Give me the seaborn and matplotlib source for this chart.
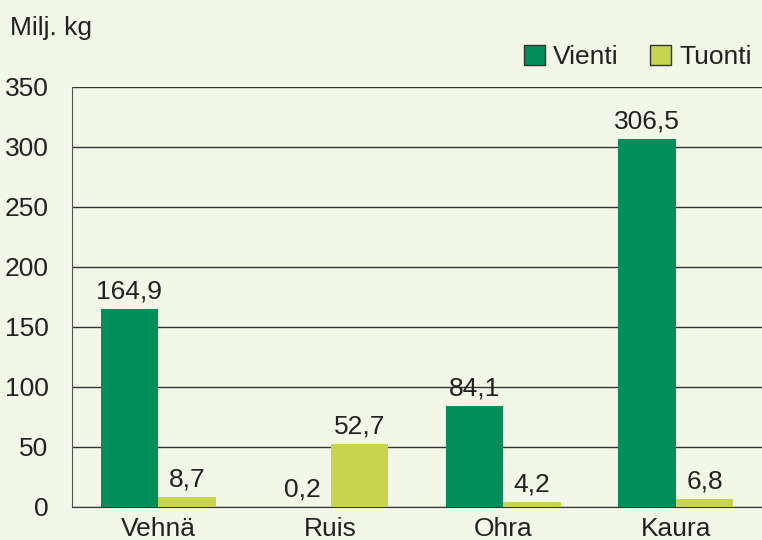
import pandas as pd
import matplotlib.pyplot as plt
import seaborn as sns
from matplotlib.ticker import FixedLocator

categories = ['Vehnä', 'Ruis', 'Ohra', 'Kaura']
vienti = [164.9, 0.2, 84.1, 306.5]
tuonti = [8.7, 52.7, 4.2, 6.8]

df = pd.DataFrame({
    'laji': categories * 2,
    'arvo': vienti + tuonti,
    'suunta': ['Vienti'] * 4 + ['Tuonti'] * 4,
})

bg = '#f3f7e8'
sns.set_style('white')
plt.rcParams['font.family'] = ['Liberation Sans', 'DejaVu Sans']
plt.rcParams['text.color'] = '#222222'
fs = 19

fig = plt.figure(figsize=(7.62, 5.40), dpi=100, facecolor=bg)
ax = fig.add_axes([72 / 762, 1 - 507 / 540, 1 - 72 / 762, 420 / 540])
ax.set_facecolor(bg)

sns.barplot(data=df, x='laji', y='arvo', hue='suunta', order=categories,
            hue_order=['Vienti', 'Tuonti'], palette=['#008f5a', '#c9d44e'],
            width=2 / 3, saturation=1, ax=ax, zorder=3, linewidth=0)

for cont in ax.containers:
    ax.bar_label(cont, labels=[f'{v:.1f}'.replace('.', ',') for v in cont.datavalues],
                 padding=4, fontsize=fs, color='#222222')

ax.set_xlim(-0.5, 3.5)
ax.set_ylim(0, 350)
ax.set_yticks(range(0, 351, 50))
ax.yaxis.grid(True, color='#333333', linewidth=1)
ax.set_axisbelow(True)
ax.set_xlabel('')
ax.set_ylabel('')

for s in ['top', 'right']:
    ax.spines[s].set_visible(False)
ax.spines['left'].set_color('#555555')
ax.spines['bottom'].set_color('#333333')

ax.tick_params(axis='y', labelsize=fs, length=12, width=1, color='#555555', pad=5,
               labelcolor='#222222')
ax.tick_params(axis='x', which='major', labelsize=fs, length=0, pad=7, labelcolor='#222222')
ax.xaxis.set_minor_locator(FixedLocator([0.5, 1.5, 2.5]))
ax.tick_params(axis='x', which='minor', length=6, width=1, color='#555555')

fig.text(10 / 762, 1 - 28 / 540, 'Milj. kg', fontsize=fs, va='center', ha='left')

leg = ax.legend(loc='center right', bbox_to_anchor=(1.0, 1 - 57 / 540),
                bbox_transform=fig.transFigure, ncol=2, frameon=False,
                fontsize=fs, handlelength=0.8, handleheight=0.8,
                handletextpad=0.3, columnspacing=1.2, borderaxespad=0)
for h in leg.legend_handles:
    h.set_edgecolor('#333333')
    h.set_linewidth(1)

fig.savefig('out.png', dpi=100, facecolor=bg)
